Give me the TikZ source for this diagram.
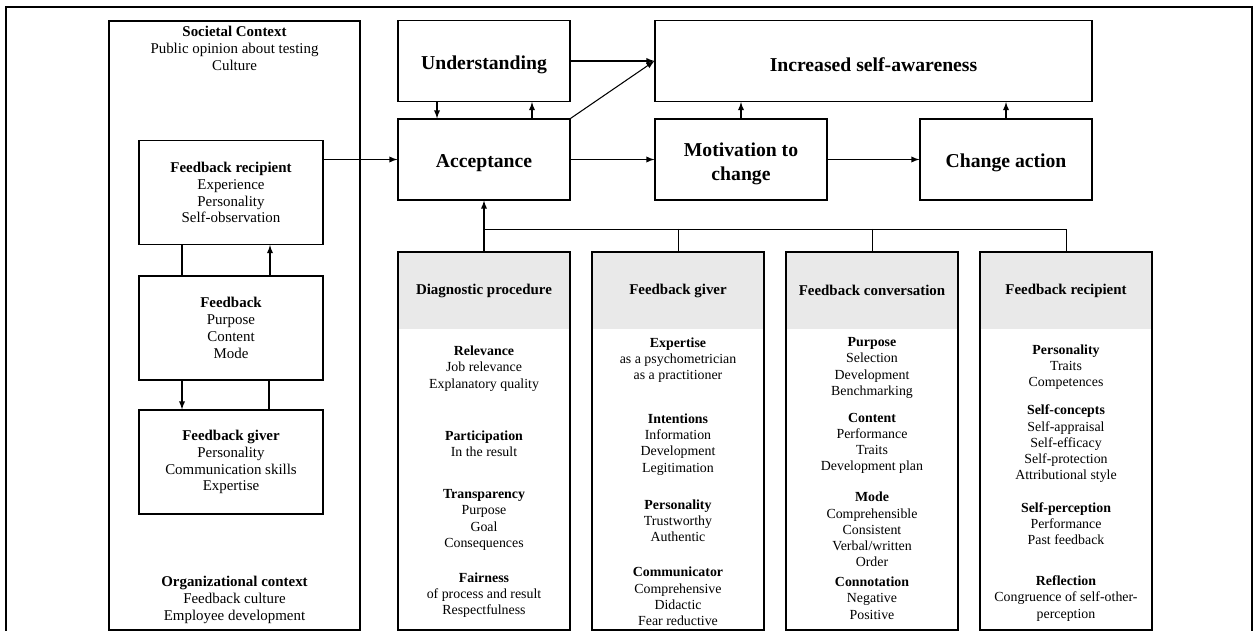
\documentclass[tikz,border=0pt]{standalone}
\usepackage{fontspec}
\setmainfont{Liberation Serif}
\usepackage{tikz}
\usetikzlibrary{arrows}
\tikzset{>=latex}
\usepackage{xcolor}
\definecolor{hd}{HTML}{E9E9E9}
\newcommand\headfont{\fontsize{11.2}{13.5}\selectfont}
\newcommand\boxfont{\fontsize{8.5}{9.6}\selectfont}
\newcommand\itemfont{\fontsize{7.9}{9.25}\selectfont}
\tikzstyle{block}=[draw,line width=0.7pt,minimum width=3.44cm,minimum height=1.62cm,align=center,font=\headfont\bfseries,execute at begin node={\rule{0pt}{12pt}}]
\tikzstyle{lbox}=[draw,line width=0.7pt,minimum width=3.68cm,minimum height=2.08cm,align=center,font=\boxfont]
\tikzstyle{col}=[draw,line width=0.7pt,minimum width=3.44cm,minimum height=7.56cm]
\tikzstyle{colhead}=[fill=hd,minimum width=3.44cm,minimum height=1.54cm,anchor=north,font=\boxfont\bfseries]
\tikzstyle{grp}=[align=center,font=\itemfont]
\tikzstyle{ctx}=[align=center,font=\boxfont]
\tikzstyle{link}=[line width=0.6pt]

\begin{document}
\begin{tikzpicture}[x=0.02cm,y=-0.02cm]
  \useasboundingbox (0,0) rectangle (1253,631);
  \draw[line width=1.6pt] (6,7) rectangle (1252,660);

  % context column
  \node[draw,line width=0.7pt,minimum width=5.02cm,minimum height=12.18cm] (soc) at (234.5,325.5) {};
  \node[ctx] (socT) at (234.5,48.5) {\textbf{Societal Context}\\Public opinion about testing\\Culture};
  \node[ctx] (org) at (234.5,600) {\textbf{Organizational context}\\Feedback culture\\Employee development};
  \node[lbox] (lrec) at (231,192.5) {\textbf{Feedback recipient}\\Experience\\Personality\\Self-observation};
  \node[lbox] (lfb) at (231,328) {\textbf{Feedback}\\Purpose\\Content\\Mode};
  \node[lbox] (lgiv) at (231,462) {\textbf{Feedback giver}\\Personality\\Communication skills\\Expertise};

  % outcome chain
  \node[block] (und) at (484,61) {Understanding};
  \node[block] (acc) at (484,159.5) {Acceptance};
  \node[block,minimum width=8.74cm] (inc) at (873.5,61) {Increased self-awareness};
  \node[block] (mot) at (741,159.5) {\raisebox{-2.3pt}[\height][\depth]{\begin{tabular}{@{}c@{}}Motivation to\\change\end{tabular}}};
  \node[block] (chg) at (1006,159.5) {Change action};

  % factor columns
  \node[colhead] (diagH) at (484,252) {Diagnostic procedure};
  \node[colhead] (givH) at (678,252) {Feedback giver};
  \node[colhead] (convH) at (872,252) {Feedback conversation};
  \node[colhead] (recH) at (1066,252) {Feedback recipient};
  \node[col] (diag) at (484,441) {};
  \node[col] (giv) at (678,441) {};
  \node[col] (conv) at (872,441) {};
  \node[col] (rec) at (1066,441) {};

  \node[grp] (diagA) at (484,368.5) {\textbf{Relevance}\\Job relevance\\Explanatory quality};
  \node[grp] (diagB) at (484,443.5) {\textbf{Participation}\\In the result};
  \node[grp] (diagC) at (484,520) {\textbf{Transparency}\\Purpose\\Goal\\Consequences};
  \node[grp] (diagD) at (484,595) {\textbf{Fairness}\\of process and result\\Respectfulness};

  \node[grp] (givA) at (678,360) {\textbf{Expertise}\\as a psychometrician\\as a practitioner};
  \node[grp] (givB) at (678,444.5) {\textbf{Intentions}\\Information\\Development\\Legitimation};
  \node[grp] (givC) at (678,520.5) {\textbf{Personality}\\Trustworthy\\Authentic};
  \node[grp] (givD) at (678,596.5) {\textbf{Communicator}\\Comprehensive\\Didactic\\Fear reductive};

  \node[grp] (convA) at (872,368) {\textbf{Purpose}\\Selection\\Development\\Benchmarking};
  \node[grp] (convB) at (872,443.5) {\textbf{Content}\\Performance\\Traits\\Development plan};
  \node[grp] (convC) at (872,529.5) {\textbf{Mode}\\Comprehensible\\Consistent\\Verbal/written\\Order};
  \node[grp] (convD) at (872,598) {\textbf{Connotation}\\Negative\\Positive};

  \node[grp] (recA) at (1066,367) {\textbf{Personality}\\Traits\\Competences};
  \node[grp] (recB) at (1066,444) {\textbf{Self-concepts}\\Self-appraisal\\Self-efficacy\\Self-protection\\Attributional style};
  \node[grp] (recC) at (1066,523.5) {\textbf{Self-perception}\\Performance\\Past feedback};
  \node[grp] (recD) at (1066,598.5) {\textbf{Reflection}\\Congruence of self-other-\\perception};

  % connectors
  \draw[link] ([xshift=-0.98cm]lrec.south) -- ([xshift=-0.98cm]lfb.north);
  \draw[link,->] ([xshift=0.78cm]lfb.north) -- ([xshift=0.78cm]lrec.south);
  \draw[link,->] ([xshift=-0.98cm]lfb.south) -- ([xshift=-0.98cm]lgiv.north);
  \draw[link] ([xshift=0.76cm]lfb.south) -- ([xshift=0.76cm]lgiv.north);
  \draw[link,->] (acc.west -| lrec.east) -- (acc.west);
  \draw[link,->] ([xshift=-0.94cm]und.south) -- ([xshift=-0.94cm]acc.north);
  \draw[link,->] ([xshift=0.96cm]acc.north) -- ([xshift=0.96cm]und.south);
  \draw[link,->] (und.east) -- (inc.west);
  \draw[link,->] (acc.north east) -- (inc.west);
  \draw[link,->] (acc.east) -- (mot.west);
  \draw[link,->] (mot.east) -- (chg.west);
  \draw[link,->] (mot.north) -- (mot.north |- inc.south);
  \draw[link,->] (chg.north) -- (chg.north |- inc.south);

  \coordinate (bus) at (484,229);
  \draw[link,->] (diagH.north) -- (acc.south);
  \draw[line width=0.5pt] (bus) -| (recH.north);
  \foreach \b in {givH,convH}
    \draw[line width=0.5pt] (bus -| \b.north) -- (\b.north);
\end{tikzpicture}
\end{document}
